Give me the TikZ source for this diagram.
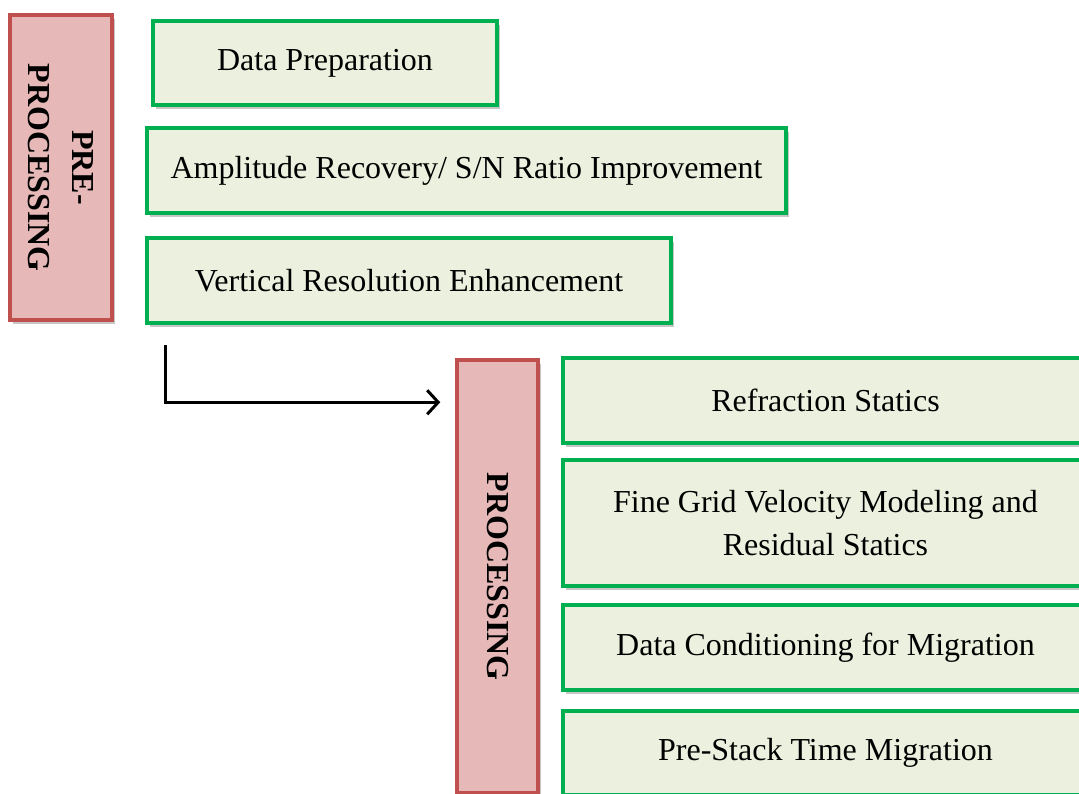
\documentclass[tikz,border=0pt]{standalone}
\usepackage{fontspec}
\setmainfont{Liberation Serif}
\usepackage{tikz}
\usetikzlibrary{shadows,arrows.meta}

\definecolor{stepgreen}{HTML}{00B050}
\definecolor{stepfill}{HTML}{EBF1DE}
\definecolor{phasered}{HTML}{C0504D}
\definecolor{phasefill}{HTML}{E6B8B7}

\begin{document}
\begin{tikzpicture}[x=1pt, y=-1pt,
    stepbox/.style={rectangle, draw=stepgreen, fill=stepfill, line width=3.5pt, align=center,
        font=\fontsize{32}{43}\selectfont,
        drop shadow={shadow xshift=3pt, shadow yshift=-4pt, opacity=0.45, fill=gray}},
    phasebox/.style={rectangle, draw=phasered, fill=phasefill, line width=3.5pt, align=center,
        font=\fontsize{32}{44}\selectfont\bfseries, rotate=-90,
        drop shadow={shadow xshift=3pt, shadow yshift=-4pt, opacity=0.45, fill=gray}}]
    \useasboundingbox (0,0) rectangle (1079,793);
    \clip (0,0) rectangle (1079,793);

    % Nodes
    \node[phasebox, minimum width=305pt, minimum height=102pt] (pre) at (61,167.5) {PRE-\\PROCESSING};
    \node[stepbox, minimum width=344pt, minimum height=84pt] (prep) at (325,63) {Data Preparation};
    \node[stepbox, minimum width=639pt, minimum height=85pt] (amp) at (466.5,170.5) {Amplitude Recovery/ S/N Ratio Improvement};
    \node[stepbox, minimum width=524pt, minimum height=85pt] (vert) at (409,280.5) {Vertical Resolution Enhancement};

    \node[phasebox, minimum width=433pt, minimum height=81pt] (proc) at (497.5,576.5) {PROCESSING};
    \node[stepbox, minimum width=525pt, minimum height=85pt] (refr) at (825.5,400.5) {Refraction Statics};
    \node[stepbox, minimum width=525pt, minimum height=126pt] (fine) at (825.5,523) {Fine Grid Velocity Modeling and\\Residual Statics};
    \node[stepbox, minimum width=525pt, minimum height=85pt] (cond) at (825.5,647.5) {Data Conditioning for Migration};
    \node[stepbox, minimum width=525pt, minimum height=84pt] (pstm) at (825.5,753) {Pre-Stack Time Migration};

    % Arrow
    \coordinate (turn) at (165,345);
    \draw[line width=3pt, -{Straight Barb[length=11pt, width=24pt, line width=3pt]}]
        (turn) |- ([xshift=-15pt, yshift=-44pt]proc.south west);
\end{tikzpicture}
\end{document}
